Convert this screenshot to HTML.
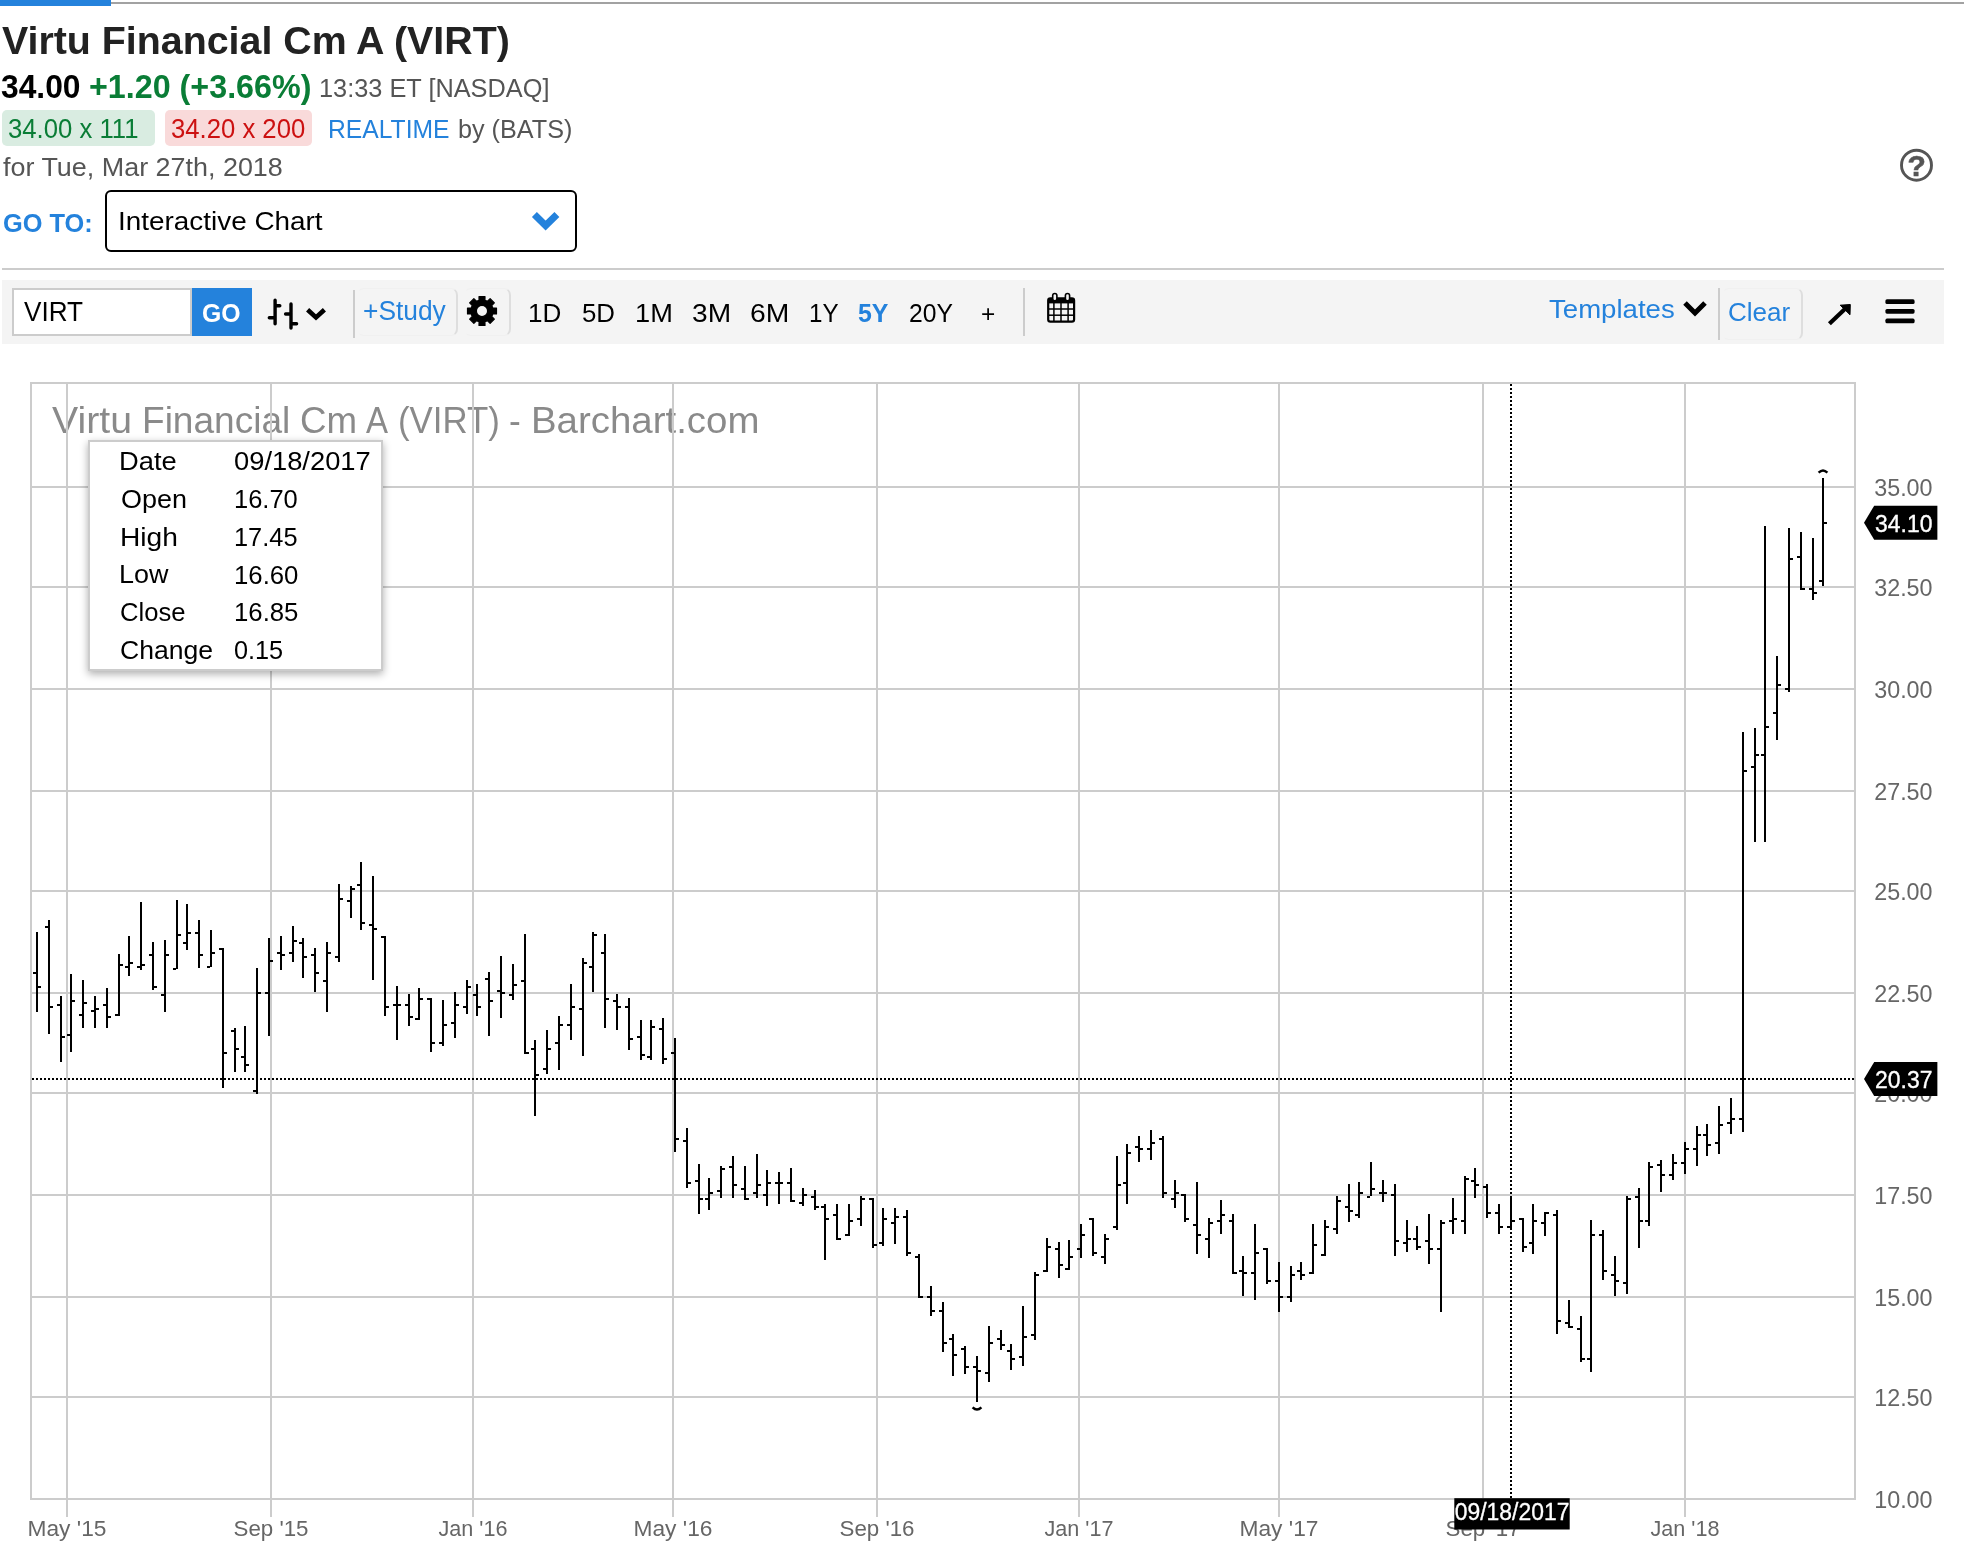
<!DOCTYPE html>
<html lang="en"><head><meta charset="utf-8"><title>Virtu Financial Cm A (VIRT) Interactive Chart - Barchart.com</title>
<style>
html,body{margin:0;padding:0;background:#fff}
body{width:1964px;height:1559px;position:relative;overflow:hidden;font-family:"Liberation Sans", sans-serif}
#page{position:absolute;left:0;top:0;width:1964px;height:1559px;will-change:transform}
.abs{position:absolute;display:block}
.t{position:absolute;white-space:pre;line-height:1;transform-origin:0 0;display:block}
svg text{font-family:"Liberation Sans", sans-serif}
#progress{left:0;top:0;width:111px;height:6px;background:#2482dc}
#topline{left:111px;top:2px;width:1853px;height:2px;background:#a2a2a2}
.badge{border-radius:5px;height:36px;top:110px}
#bidbg{left:2px;width:153px;background:#d9ece1}
#askbg{left:165px;width:147px;background:#f9dada}
#selbox{left:105px;top:190px;width:468px;height:58px;border:2px solid #000;border-radius:6px;background:#fff}
#rule{left:2px;top:268px;width:1942px;height:2px;background:#ccc}
#toolbar{left:2px;top:280px;width:1942px;height:64px;background:#f4f4f4}
#symbox{left:12px;top:288px;width:176px;height:44px;border:2px solid #ccc;background:#fff}
#gobtn{left:192px;top:288px;width:60px;height:48px;background:#2482dc}
#tooltip{left:88px;top:440px;width:291px;height:227px;border:2px solid #ccc;background:#fff;box-shadow:0 3px 8px rgba(0,0,0,.32)}
.vdiv{width:2px;background:#ccc;top:290px;height:48px}
.ghost{border:1px solid #f0f0f0;border-right:2px solid #dedede;border-left-color:transparent;border-radius:7px;top:288px;height:46px}
</style></head>
<body>
<div id="page">
<div class="abs" id="progress"></div><div class="abs" id="topline"></div>
<header>
<h1 style="margin:0"><span class="t" id="title" style="left:2.2px;top:21.8px;font-size:38px;font-weight:700;color:#222;transform:scaleX(1.0352)">Virtu Financial Cm A (VIRT)</span></h1>
<div class="quote"><span class="t" id="last" style="left:1.4px;top:69.9px;font-size:33px;font-weight:700;color:#000;transform:scaleX(0.9630)">34.00</span><span class="t" id="chg" style="left:88.6px;top:69.9px;font-size:33px;font-weight:700;color:#0a7d36;transform:scaleX(0.9778)">+1.20 (+3.66%)</span><span class="t" id="tm" style="left:319.4px;top:76.2px;font-size:25.5px;font-weight:400;color:#555;transform:scaleX(0.9934)">13:33 ET [NASDAQ]</span></div>
<div class="abs badge" id="bidbg"></div><div class="abs badge" id="askbg"></div>
<span class="t" id="bid" style="left:8.0px;top:115.5px;font-size:27px;font-weight:400;color:#0a7d36;transform:scaleX(0.9519)">34.00 x 111</span><span class="t" id="ask" style="left:170.8px;top:115.5px;font-size:27px;font-weight:400;color:#cc1111;transform:scaleX(0.9511)">34.20 x 200</span><span class="t" id="rt" style="left:328.2px;top:115.9px;font-size:26px;font-weight:400;color:#2482dc;transform:scaleX(0.9488)">REALTIME</span><span class="t" id="by" style="left:457.5px;top:115.9px;font-size:26px;font-weight:400;color:#555;transform:scaleX(0.9690)">by (BATS)</span>
<span class="t" id="for" style="left:2.5px;top:153.9px;font-size:26px;font-weight:400;color:#555;transform:scaleX(1.0353)">for Tue, Mar 27th, 2018</span>
<span class="t" id="goto" style="left:2.6px;top:209.7px;font-size:26px;font-weight:700;color:#2482dc;transform:scaleX(0.9753)">GO TO:</span>
<div class="abs" id="selbox"></div><span class="t" id="sel" style="left:118.1px;top:208.1px;font-size:26px;font-weight:400;color:#000;transform:scaleX(1.0725)">Interactive Chart</span>
</header>
<div class="abs" id="rule"></div>
<nav>
<div class="abs" id="toolbar"></div>
<div class="abs" id="symbox"></div><span class="t" id="sym" style="left:24.2px;top:298.3px;font-size:28px;font-weight:400;color:#000;transform:scaleX(0.9333)">VIRT</span>
<div class="abs" id="gobtn"></div><span class="t" id="go" style="left:202.3px;top:299.8px;font-size:26px;font-weight:700;color:#fff;transform:scaleX(0.9538)">GO</span>
<div class="abs vdiv" style="left:353px"></div>
<div class="abs ghost" style="left:357px;width:98px"></div>
<div class="abs ghost" style="left:464px;width:44px"></div>
<span class="t" id="study" style="left:362.7px;top:298.1px;font-size:27px;font-weight:400;color:#2482dc;transform:scaleX(0.9762)">+Study</span>
<span class="t" id="p1d" style="left:528.0px;top:299.7px;font-size:26px;font-weight:400;color:#000;transform:scaleX(1.0033)">1D</span><span class="t" id="p5d" style="left:581.9px;top:299.7px;font-size:26px;font-weight:400;color:#000;transform:scaleX(0.9935)">5D</span><span class="t" id="p1m" style="left:635.0px;top:299.7px;font-size:26px;font-weight:400;color:#000;transform:scaleX(1.0469)">1M</span><span class="t" id="p3m" style="left:691.8px;top:299.7px;font-size:26px;font-weight:400;color:#000;transform:scaleX(1.0818)">3M</span><span class="t" id="p6m" style="left:750.2px;top:299.7px;font-size:26px;font-weight:400;color:#000;transform:scaleX(1.0879)">6M</span><span class="t" id="p1y" style="left:809.1px;top:299.7px;font-size:26px;font-weight:400;color:#000;transform:scaleX(0.9310)">1Y</span><span class="t" id="p5y" style="left:858.3px;top:299.7px;font-size:26px;font-weight:700;color:#2482dc;transform:scaleX(0.9581)">5Y</span><span class="t" id="p20y" style="left:908.8px;top:299.6px;font-size:26px;font-weight:400;color:#000;transform:scaleX(0.9489)">20Y</span><span class="t" id="plus" style="left:980.7px;top:301.6px;font-size:24px;font-weight:400;color:#000;transform:scaleX(1.0167)">+</span>
<div class="abs vdiv" style="left:1023px;top:288px"></div>
<span class="t" id="tpl" style="left:1549.2px;top:295.7px;font-size:26px;font-weight:400;color:#2482dc;transform:scaleX(1.0610)">Templates</span>
<div class="abs vdiv" style="left:1718px;top:288px;height:52px"></div>
<div class="abs ghost" style="left:1722px;width:78px;top:288px;height:50px"></div>
<span class="t" id="clr" style="left:1727.8px;top:299.2px;font-size:26.5px;font-weight:400;color:#2482dc;transform:scaleX(0.9823)">Clear</span>
</nav>

<svg class="abs" style="left:0;top:0" width="1964" height="370" viewBox="0 0 1964 370">
  <!-- select chevron -->
  <path d="M534.4,214.4 L545.6,225.5 L556.9,214.4" fill="none" stroke="#2482dc" stroke-width="7"/>
  <!-- help icon -->
  <circle cx="1916.5" cy="165.2" r="15" fill="none" stroke="#555" stroke-width="2.9"/>
  <text x="1916.6" y="176.2" text-anchor="middle" font-family='"Liberation Sans", sans-serif' font-weight="700" font-size="30" fill="#555" stroke="#555" stroke-width="0.6">?</text>
  <!-- ohlc icon -->
  <g stroke="#000" stroke-width="3.4" stroke-linecap="round" fill="none">
    <path d="M275.1,300.2 V323.7 M269.3,317.7 H275 M275.2,305.8 H279.8"/>
    <path d="M291,304 V328 M285.6,314 H291 M291,323.7 H296.6"/>
  </g>
  <!-- chevrons -->
  <path d="M307.6,309.7 L316,317.4 L324.4,309.7" fill="none" stroke="#000" stroke-width="4.6"/>
  <path d="M1685,303 L1695,313 L1705,303" fill="none" stroke="#000" stroke-width="5"/>
  <path d="M479.04,300.20 L479.00,296.51 L485.00,296.51 L484.96,300.20 L487.55,301.27 L490.13,298.63 L494.37,302.87 L491.73,305.45 L492.80,308.04 L496.49,308.00 L496.49,314.00 L492.80,313.96 L491.73,316.55 L494.37,319.13 L490.13,323.37 L487.55,320.73 L484.96,321.80 L485.00,325.49 L479.00,325.49 L479.04,321.80 L476.45,320.73 L473.87,323.37 L469.63,319.13 L472.27,316.55 L471.20,313.96 L467.51,314.00 L467.51,308.00 L471.20,308.04 L472.27,305.45 L469.63,302.87 L473.87,298.63 L476.45,301.27Z M476.40,311.00 a5.6,5.6 0 1,0 11.2,0 a5.6,5.6 0 1,0 -11.2,0Z" fill="#000" fill-rule="evenodd" stroke="#000" stroke-width="1.2" stroke-linejoin="round"/>
  <!-- calendar -->
  <g>
    <rect x="1048.2" y="298.4" width="25.9" height="23.3" rx="2.2" fill="none" stroke="#000" stroke-width="2.2"/>
    <rect x="1048.2" y="298.4" width="25.9" height="5" fill="#000"/>
    <g stroke="#000" stroke-width="1.5">
      <line x1="1048" y1="309" x2="1074" y2="309"/><line x1="1048" y1="315.2" x2="1074" y2="315.2"/>
      <line x1="1053.9" y1="303" x2="1053.9" y2="322"/><line x1="1061" y1="303" x2="1061" y2="322"/><line x1="1068.1" y1="303" x2="1068.1" y2="322"/>
    </g>
    <rect x="1052.7" y="293.5" width="4.2" height="7.4" rx="2.1" fill="#f4f4f4" stroke="#000" stroke-width="1.6"/>
    <rect x="1065.4" y="293.5" width="4.2" height="7.4" rx="2.1" fill="#f4f4f4" stroke="#000" stroke-width="1.6"/>
  </g>
  <!-- arrow -->
  <path d="M1829.4,323.8 L1846.5,307.6" fill="none" stroke="#000" stroke-width="4.2"/>
  <path d="M1840.2,305.2 L1850.3,304.5 L1850,314.8 Z" fill="#000" stroke="#000" stroke-width="1" stroke-linejoin="round"/>
  <!-- hamburger -->
  <g fill="#000"><rect x="1885.4" y="299.3" width="29.2" height="4.7" rx="1.6"/><rect x="1885.4" y="309" width="29.2" height="4.7" rx="1.6"/><rect x="1885.4" y="318.6" width="29.2" height="4.7" rx="1.6"/></g>
</svg>
<main>
<div class="wm"><span class="t" id="wm1" style="left:52.2px;top:403.3px;font-size:36px;font-weight:400;color:#8a8a8a;transform:scaleX(1.0901)">Virtu</span> <span class="t" id="wm2" style="left:141.8px;top:403.3px;font-size:36px;font-weight:400;color:#8a8a8a;transform:scaleX(1.0295)">Financial</span> <span class="t" id="wm3" style="left:299.7px;top:403.3px;font-size:36px;font-weight:400;color:#8a8a8a;transform:scaleX(1.0192)">Cm</span> <span class="t" id="wm4" style="left:365.9px;top:403.3px;font-size:36px;font-weight:400;color:#8a8a8a;transform:scaleX(0.9167)">A</span> <span class="t" id="wm5" style="left:398.1px;top:403.3px;font-size:36px;font-weight:400;color:#8a8a8a;transform:scaleX(0.9673)">(VIRT)</span> <span class="t" id="wm6" style="left:509.3px;top:403.3px;font-size:36px;font-weight:400;color:#8a8a8a;transform:scaleX(0.9800)">-</span> <span class="t" id="wm7" style="left:530.6px;top:403.3px;font-size:36px;font-weight:400;color:#8a8a8a;transform:scaleX(1.0670)">Barchart.com</span></div>
<svg class="abs" id="chart" style="left:0;top:370px" width="1964" height="1189" viewBox="0 370 1964 1189">
<g fill="#cccccc" shape-rendering="crispEdges">
<rect x="32" y="486" width="1822" height="2"/>
<rect x="32" y="586" width="1822" height="2"/>
<rect x="32" y="688" width="1822" height="2"/>
<rect x="32" y="790" width="1822" height="2"/>
<rect x="32" y="890" width="1822" height="2"/>
<rect x="32" y="992" width="1822" height="2"/>
<rect x="32" y="1092" width="1822" height="2"/>
<rect x="32" y="1194" width="1822" height="2"/>
<rect x="32" y="1296" width="1822" height="2"/>
<rect x="32" y="1396" width="1822" height="2"/>
<rect x="66" y="384" width="2" height="1133"/>
<rect x="270" y="384" width="2" height="1133"/>
<rect x="472" y="384" width="2" height="1133"/>
<rect x="672" y="384" width="2" height="1133"/>
<rect x="876" y="384" width="2" height="1133"/>
<rect x="1078" y="384" width="2" height="1133"/>
<rect x="1278" y="384" width="2" height="1133"/>
<rect x="1482" y="384" width="2" height="1133"/>
<rect x="1684" y="384" width="2" height="1133"/>
</g>
<g fill="#cccccc" shape-rendering="crispEdges"><rect x="30" y="382" width="1826" height="2"/><rect x="30" y="1498" width="1826" height="2"/><rect x="30" y="382" width="2" height="1118"/><rect x="1854" y="382" width="2" height="1118"/></g>
<g font-size="22" fill="#666">
<text x="27.5" y="1536.2" textLength="79" lengthAdjust="spacingAndGlyphs">May '15</text>
<text x="233.5" y="1536.2" textLength="75" lengthAdjust="spacingAndGlyphs">Sep '15</text>
<text x="438.5" y="1536.2" textLength="69" lengthAdjust="spacingAndGlyphs">Jan '16</text>
<text x="633.5" y="1536.2" textLength="79" lengthAdjust="spacingAndGlyphs">May '16</text>
<text x="839.5" y="1536.2" textLength="75" lengthAdjust="spacingAndGlyphs">Sep '16</text>
<text x="1044.5" y="1536.2" textLength="69" lengthAdjust="spacingAndGlyphs">Jan '17</text>
<text x="1239.5" y="1536.2" textLength="79" lengthAdjust="spacingAndGlyphs">May '17</text>
<text x="1445.5" y="1536.2" textLength="75" lengthAdjust="spacingAndGlyphs">Sep '17</text>
<text x="1650.5" y="1536.2" textLength="69" lengthAdjust="spacingAndGlyphs">Jan '18</text>
<text x="1874.2" y="495.9" font-size="23.3" textLength="58.4" lengthAdjust="spacingAndGlyphs">35.00</text>
<text x="1874.2" y="595.9" font-size="23.3" textLength="58.4" lengthAdjust="spacingAndGlyphs">32.50</text>
<text x="1874.2" y="697.9" font-size="23.3" textLength="58.4" lengthAdjust="spacingAndGlyphs">30.00</text>
<text x="1874.2" y="799.9" font-size="23.3" textLength="58.4" lengthAdjust="spacingAndGlyphs">27.50</text>
<text x="1874.2" y="899.9" font-size="23.3" textLength="58.4" lengthAdjust="spacingAndGlyphs">25.00</text>
<text x="1874.2" y="1001.9" font-size="23.3" textLength="58.4" lengthAdjust="spacingAndGlyphs">22.50</text>
<text x="1874.2" y="1101.9" font-size="23.3" textLength="58.4" lengthAdjust="spacingAndGlyphs">20.00</text>
<text x="1874.2" y="1203.9" font-size="23.3" textLength="58.4" lengthAdjust="spacingAndGlyphs">17.50</text>
<text x="1874.2" y="1305.9" font-size="23.3" textLength="58.4" lengthAdjust="spacingAndGlyphs">15.00</text>
<text x="1874.2" y="1405.9" font-size="23.3" textLength="58.4" lengthAdjust="spacingAndGlyphs">12.50</text>
<text x="1874.2" y="1507.9" font-size="23.3" textLength="58.4" lengthAdjust="spacingAndGlyphs">10.00</text>
</g>
<g fill="#000" shape-rendering="crispEdges">
<rect x="36" y="932" width="2" height="80"/><rect x="33" y="972" width="3" height="2"/><rect x="38" y="986" width="3" height="2"/>
<rect x="48" y="920" width="2" height="114"/><rect x="45" y="926" width="3" height="2"/><rect x="50" y="1006" width="3" height="2"/>
<rect x="60" y="996" width="2" height="66"/><rect x="57" y="1004" width="3" height="2"/><rect x="62" y="1036" width="3" height="2"/>
<rect x="70" y="974" width="2" height="78"/><rect x="67" y="1034" width="3" height="2"/><rect x="72" y="1000" width="3" height="2"/>
<rect x="82" y="980" width="2" height="48"/><rect x="79" y="1014" width="3" height="2"/><rect x="84" y="1002" width="3" height="2"/>
<rect x="94" y="996" width="2" height="32"/><rect x="91" y="1010" width="3" height="2"/><rect x="96" y="1008" width="3" height="2"/>
<rect x="106" y="988" width="2" height="40"/><rect x="103" y="1004" width="3" height="2"/><rect x="108" y="1016" width="3" height="2"/>
<rect x="118" y="954" width="2" height="62"/><rect x="115" y="1014" width="3" height="2"/><rect x="120" y="964" width="3" height="2"/>
<rect x="128" y="936" width="2" height="40"/><rect x="125" y="966" width="3" height="2"/><rect x="130" y="962" width="3" height="2"/>
<rect x="140" y="902" width="2" height="68"/><rect x="137" y="966" width="3" height="2"/><rect x="142" y="964" width="3" height="2"/>
<rect x="152" y="942" width="2" height="48"/><rect x="149" y="954" width="3" height="2"/><rect x="154" y="986" width="3" height="2"/>
<rect x="164" y="940" width="2" height="72"/><rect x="161" y="994" width="3" height="2"/><rect x="166" y="954" width="3" height="2"/>
<rect x="176" y="900" width="2" height="69"/><rect x="173" y="968" width="3" height="2"/><rect x="178" y="934" width="3" height="2"/>
<rect x="186" y="904" width="2" height="46"/><rect x="183" y="942" width="3" height="2"/><rect x="188" y="932" width="3" height="2"/>
<rect x="198" y="920" width="2" height="48"/><rect x="195" y="932" width="3" height="2"/><rect x="200" y="954" width="3" height="2"/>
<rect x="210" y="930" width="2" height="37"/><rect x="207" y="966" width="3" height="2"/><rect x="212" y="952" width="3" height="2"/>
<rect x="222" y="948" width="2" height="140"/><rect x="219" y="948" width="3" height="2"/><rect x="224" y="1052" width="3" height="2"/>
<rect x="234" y="1028" width="2" height="44"/><rect x="231" y="1030" width="3" height="2"/><rect x="236" y="1048" width="3" height="2"/>
<rect x="244" y="1026" width="2" height="46"/><rect x="241" y="1056" width="3" height="2"/><rect x="246" y="1064" width="3" height="2"/>
<rect x="256" y="968" width="2" height="126"/><rect x="253" y="1090" width="3" height="2"/><rect x="258" y="992" width="3" height="2"/>
<rect x="268" y="938" width="2" height="98"/><rect x="265" y="992" width="3" height="2"/><rect x="270" y="960" width="3" height="2"/>
<rect x="280" y="936" width="2" height="34"/><rect x="277" y="952" width="3" height="2"/><rect x="282" y="954" width="3" height="2"/>
<rect x="292" y="926" width="2" height="36"/><rect x="289" y="952" width="3" height="2"/><rect x="294" y="940" width="3" height="2"/>
<rect x="302" y="938" width="2" height="40"/><rect x="299" y="942" width="3" height="2"/><rect x="304" y="956" width="3" height="2"/>
<rect x="314" y="948" width="2" height="44"/><rect x="311" y="954" width="3" height="2"/><rect x="316" y="972" width="3" height="2"/>
<rect x="326" y="942" width="2" height="70"/><rect x="323" y="980" width="3" height="2"/><rect x="328" y="952" width="3" height="2"/>
<rect x="338" y="884" width="2" height="78"/><rect x="335" y="956" width="3" height="2"/><rect x="340" y="898" width="3" height="2"/>
<rect x="350" y="886" width="2" height="32"/><rect x="347" y="900" width="3" height="2"/><rect x="352" y="888" width="3" height="2"/>
<rect x="360" y="862" width="2" height="68"/><rect x="357" y="884" width="3" height="2"/><rect x="362" y="922" width="3" height="2"/>
<rect x="372" y="876" width="2" height="104"/><rect x="369" y="924" width="3" height="2"/><rect x="374" y="928" width="3" height="2"/>
<rect x="384" y="936" width="2" height="80"/><rect x="381" y="936" width="3" height="2"/><rect x="386" y="1006" width="3" height="2"/>
<rect x="396" y="986" width="2" height="54"/><rect x="393" y="1004" width="3" height="2"/><rect x="398" y="1004" width="3" height="2"/>
<rect x="408" y="994" width="2" height="32"/><rect x="405" y="1004" width="3" height="2"/><rect x="410" y="1016" width="3" height="2"/>
<rect x="418" y="988" width="2" height="32"/><rect x="415" y="1018" width="3" height="2"/><rect x="420" y="998" width="3" height="2"/>
<rect x="430" y="998" width="2" height="54"/><rect x="427" y="998" width="3" height="2"/><rect x="432" y="1042" width="3" height="2"/>
<rect x="442" y="1000" width="2" height="46"/><rect x="439" y="1042" width="3" height="2"/><rect x="444" y="1024" width="3" height="2"/>
<rect x="454" y="992" width="2" height="46"/><rect x="451" y="1022" width="3" height="2"/><rect x="456" y="1004" width="3" height="2"/>
<rect x="466" y="980" width="2" height="34"/><rect x="463" y="1006" width="3" height="2"/><rect x="468" y="986" width="3" height="2"/>
<rect x="476" y="984" width="2" height="32"/><rect x="473" y="994" width="3" height="2"/><rect x="478" y="1006" width="3" height="2"/>
<rect x="488" y="972" width="2" height="64"/><rect x="485" y="978" width="3" height="2"/><rect x="490" y="1000" width="3" height="2"/>
<rect x="500" y="956" width="2" height="62"/><rect x="497" y="990" width="3" height="2"/><rect x="502" y="992" width="3" height="2"/>
<rect x="512" y="964" width="2" height="36"/><rect x="509" y="994" width="3" height="2"/><rect x="514" y="984" width="3" height="2"/>
<rect x="524" y="934" width="2" height="120"/><rect x="521" y="980" width="3" height="2"/><rect x="526" y="1052" width="3" height="2"/>
<rect x="534" y="1040" width="2" height="76"/><rect x="531" y="1048" width="3" height="2"/><rect x="536" y="1074" width="3" height="2"/>
<rect x="546" y="1030" width="2" height="44"/><rect x="543" y="1068" width="3" height="2"/><rect x="548" y="1048" width="3" height="2"/>
<rect x="558" y="1016" width="2" height="54"/><rect x="555" y="1042" width="3" height="2"/><rect x="560" y="1024" width="3" height="2"/>
<rect x="570" y="984" width="2" height="56"/><rect x="567" y="1024" width="3" height="2"/><rect x="572" y="1006" width="3" height="2"/>
<rect x="582" y="958" width="2" height="98"/><rect x="579" y="1008" width="3" height="2"/><rect x="584" y="962" width="3" height="2"/>
<rect x="592" y="932" width="2" height="60"/><rect x="589" y="966" width="3" height="2"/><rect x="594" y="934" width="3" height="2"/>
<rect x="604" y="934" width="2" height="94"/><rect x="601" y="952" width="3" height="2"/><rect x="606" y="998" width="3" height="2"/>
<rect x="616" y="994" width="2" height="36"/><rect x="613" y="1000" width="3" height="2"/><rect x="618" y="1006" width="3" height="2"/>
<rect x="628" y="998" width="2" height="52"/><rect x="625" y="1006" width="3" height="2"/><rect x="630" y="1038" width="3" height="2"/>
<rect x="640" y="1020" width="2" height="40"/><rect x="637" y="1036" width="3" height="2"/><rect x="642" y="1054" width="3" height="2"/>
<rect x="650" y="1020" width="2" height="40"/><rect x="647" y="1056" width="3" height="2"/><rect x="652" y="1026" width="3" height="2"/>
<rect x="662" y="1018" width="2" height="46"/><rect x="659" y="1028" width="3" height="2"/><rect x="664" y="1058" width="3" height="2"/>
<rect x="674" y="1038" width="2" height="114"/><rect x="671" y="1052" width="3" height="2"/><rect x="676" y="1138" width="3" height="2"/>
<rect x="686" y="1128" width="2" height="60"/><rect x="683" y="1140" width="3" height="2"/><rect x="688" y="1182" width="3" height="2"/>
<rect x="698" y="1164" width="2" height="50"/><rect x="695" y="1180" width="3" height="2"/><rect x="700" y="1198" width="3" height="2"/>
<rect x="708" y="1178" width="2" height="32"/><rect x="705" y="1198" width="3" height="2"/><rect x="710" y="1192" width="3" height="2"/>
<rect x="720" y="1166" width="2" height="32"/><rect x="717" y="1190" width="3" height="2"/><rect x="722" y="1168" width="3" height="2"/>
<rect x="732" y="1156" width="2" height="42"/><rect x="729" y="1166" width="3" height="2"/><rect x="734" y="1184" width="3" height="2"/>
<rect x="744" y="1166" width="2" height="34"/><rect x="741" y="1188" width="3" height="2"/><rect x="746" y="1198" width="3" height="2"/>
<rect x="756" y="1154" width="2" height="44"/><rect x="753" y="1192" width="3" height="2"/><rect x="758" y="1184" width="3" height="2"/>
<rect x="766" y="1170" width="2" height="36"/><rect x="763" y="1194" width="3" height="2"/><rect x="768" y="1182" width="3" height="2"/>
<rect x="778" y="1172" width="2" height="32"/><rect x="775" y="1182" width="3" height="2"/><rect x="780" y="1182" width="3" height="2"/>
<rect x="790" y="1168" width="2" height="34"/><rect x="787" y="1182" width="3" height="2"/><rect x="792" y="1200" width="3" height="2"/>
<rect x="802" y="1188" width="2" height="18"/><rect x="799" y="1202" width="3" height="2"/><rect x="804" y="1194" width="3" height="2"/>
<rect x="814" y="1190" width="2" height="20"/><rect x="811" y="1196" width="3" height="2"/><rect x="816" y="1206" width="3" height="2"/>
<rect x="824" y="1204" width="2" height="56"/><rect x="821" y="1206" width="3" height="2"/><rect x="826" y="1218" width="3" height="2"/>
<rect x="836" y="1204" width="2" height="36"/><rect x="833" y="1214" width="3" height="2"/><rect x="838" y="1238" width="3" height="2"/>
<rect x="848" y="1204" width="2" height="32"/><rect x="845" y="1234" width="3" height="2"/><rect x="850" y="1220" width="3" height="2"/>
<rect x="860" y="1196" width="2" height="30"/><rect x="857" y="1218" width="3" height="2"/><rect x="862" y="1198" width="3" height="2"/>
<rect x="872" y="1198" width="2" height="50"/><rect x="869" y="1198" width="3" height="2"/><rect x="874" y="1244" width="3" height="2"/>
<rect x="882" y="1208" width="2" height="38"/><rect x="879" y="1242" width="3" height="2"/><rect x="884" y="1218" width="3" height="2"/>
<rect x="894" y="1208" width="2" height="36"/><rect x="891" y="1222" width="3" height="2"/><rect x="896" y="1216" width="3" height="2"/>
<rect x="906" y="1210" width="2" height="46"/><rect x="903" y="1216" width="3" height="2"/><rect x="908" y="1252" width="3" height="2"/>
<rect x="918" y="1254" width="2" height="44"/><rect x="915" y="1256" width="3" height="2"/><rect x="920" y="1296" width="3" height="2"/>
<rect x="930" y="1286" width="2" height="30"/><rect x="927" y="1296" width="3" height="2"/><rect x="932" y="1310" width="3" height="2"/>
<rect x="942" y="1302" width="2" height="50"/><rect x="939" y="1310" width="3" height="2"/><rect x="944" y="1342" width="3" height="2"/>
<rect x="952" y="1334" width="2" height="42"/><rect x="949" y="1338" width="3" height="2"/><rect x="954" y="1354" width="3" height="2"/>
<rect x="964" y="1346" width="2" height="28"/><rect x="961" y="1348" width="3" height="2"/><rect x="966" y="1366" width="3" height="2"/>
<rect x="976" y="1356" width="2" height="46"/><rect x="973" y="1366" width="3" height="2"/><rect x="978" y="1370" width="3" height="2"/>
<rect x="988" y="1326" width="2" height="56"/><rect x="985" y="1372" width="3" height="2"/><rect x="990" y="1342" width="3" height="2"/>
<rect x="1000" y="1330" width="2" height="20"/><rect x="997" y="1338" width="3" height="2"/><rect x="1002" y="1344" width="3" height="2"/>
<rect x="1010" y="1344" width="2" height="26"/><rect x="1007" y="1350" width="3" height="2"/><rect x="1012" y="1358" width="3" height="2"/>
<rect x="1022" y="1306" width="2" height="60"/><rect x="1019" y="1356" width="3" height="2"/><rect x="1024" y="1336" width="3" height="2"/>
<rect x="1034" y="1272" width="2" height="68"/><rect x="1031" y="1334" width="3" height="2"/><rect x="1036" y="1274" width="3" height="2"/>
<rect x="1046" y="1238" width="2" height="34"/><rect x="1043" y="1270" width="3" height="2"/><rect x="1048" y="1246" width="3" height="2"/>
<rect x="1058" y="1242" width="2" height="36"/><rect x="1055" y="1248" width="3" height="2"/><rect x="1060" y="1264" width="3" height="2"/>
<rect x="1068" y="1240" width="2" height="30"/><rect x="1065" y="1268" width="3" height="2"/><rect x="1070" y="1256" width="3" height="2"/>
<rect x="1080" y="1224" width="2" height="34"/><rect x="1077" y="1248" width="3" height="2"/><rect x="1082" y="1234" width="3" height="2"/>
<rect x="1092" y="1218" width="2" height="38"/><rect x="1089" y="1218" width="3" height="2"/><rect x="1094" y="1252" width="3" height="2"/>
<rect x="1104" y="1234" width="2" height="30"/><rect x="1101" y="1256" width="3" height="2"/><rect x="1106" y="1238" width="3" height="2"/>
<rect x="1116" y="1156" width="2" height="74"/><rect x="1113" y="1226" width="3" height="2"/><rect x="1118" y="1184" width="3" height="2"/>
<rect x="1126" y="1144" width="2" height="60"/><rect x="1123" y="1182" width="3" height="2"/><rect x="1128" y="1152" width="3" height="2"/>
<rect x="1138" y="1136" width="2" height="26"/><rect x="1135" y="1146" width="3" height="2"/><rect x="1140" y="1148" width="3" height="2"/>
<rect x="1150" y="1130" width="2" height="30"/><rect x="1147" y="1148" width="3" height="2"/><rect x="1152" y="1142" width="3" height="2"/>
<rect x="1162" y="1136" width="2" height="62"/><rect x="1159" y="1138" width="3" height="2"/><rect x="1164" y="1192" width="3" height="2"/>
<rect x="1174" y="1180" width="2" height="28"/><rect x="1171" y="1198" width="3" height="2"/><rect x="1176" y="1192" width="3" height="2"/>
<rect x="1184" y="1194" width="2" height="28"/><rect x="1181" y="1194" width="3" height="2"/><rect x="1186" y="1218" width="3" height="2"/>
<rect x="1196" y="1182" width="2" height="72"/><rect x="1193" y="1224" width="3" height="2"/><rect x="1198" y="1234" width="3" height="2"/>
<rect x="1208" y="1218" width="2" height="40"/><rect x="1205" y="1238" width="3" height="2"/><rect x="1210" y="1222" width="3" height="2"/>
<rect x="1220" y="1200" width="2" height="34"/><rect x="1217" y="1220" width="3" height="2"/><rect x="1222" y="1214" width="3" height="2"/>
<rect x="1232" y="1214" width="2" height="60"/><rect x="1229" y="1220" width="3" height="2"/><rect x="1234" y="1272" width="3" height="2"/>
<rect x="1242" y="1256" width="2" height="40"/><rect x="1239" y="1270" width="3" height="2"/><rect x="1244" y="1272" width="3" height="2"/>
<rect x="1254" y="1224" width="2" height="76"/><rect x="1251" y="1272" width="3" height="2"/><rect x="1256" y="1252" width="3" height="2"/>
<rect x="1266" y="1248" width="2" height="36"/><rect x="1263" y="1248" width="3" height="2"/><rect x="1268" y="1280" width="3" height="2"/>
<rect x="1278" y="1262" width="2" height="50"/><rect x="1275" y="1280" width="3" height="2"/><rect x="1280" y="1296" width="3" height="2"/>
<rect x="1290" y="1266" width="2" height="36"/><rect x="1287" y="1296" width="3" height="2"/><rect x="1292" y="1274" width="3" height="2"/>
<rect x="1300" y="1262" width="2" height="18"/><rect x="1297" y="1270" width="3" height="2"/><rect x="1302" y="1274" width="3" height="2"/>
<rect x="1312" y="1224" width="2" height="50"/><rect x="1309" y="1272" width="3" height="2"/><rect x="1314" y="1244" width="3" height="2"/>
<rect x="1324" y="1220" width="2" height="36"/><rect x="1321" y="1254" width="3" height="2"/><rect x="1326" y="1226" width="3" height="2"/>
<rect x="1336" y="1196" width="2" height="38"/><rect x="1333" y="1228" width="3" height="2"/><rect x="1338" y="1200" width="3" height="2"/>
<rect x="1348" y="1184" width="2" height="38"/><rect x="1345" y="1206" width="3" height="2"/><rect x="1350" y="1210" width="3" height="2"/>
<rect x="1358" y="1182" width="2" height="36"/><rect x="1355" y="1214" width="3" height="2"/><rect x="1360" y="1192" width="3" height="2"/>
<rect x="1370" y="1162" width="2" height="34"/><rect x="1367" y="1196" width="3" height="2"/><rect x="1372" y="1188" width="3" height="2"/>
<rect x="1382" y="1180" width="2" height="22"/><rect x="1379" y="1192" width="3" height="2"/><rect x="1384" y="1192" width="3" height="2"/>
<rect x="1394" y="1184" width="2" height="72"/><rect x="1391" y="1194" width="3" height="2"/><rect x="1396" y="1240" width="3" height="2"/>
<rect x="1406" y="1220" width="2" height="32"/><rect x="1403" y="1242" width="3" height="2"/><rect x="1408" y="1238" width="3" height="2"/>
<rect x="1416" y="1226" width="2" height="24"/><rect x="1413" y="1238" width="3" height="2"/><rect x="1418" y="1246" width="3" height="2"/>
<rect x="1428" y="1214" width="2" height="50"/><rect x="1425" y="1240" width="3" height="2"/><rect x="1430" y="1248" width="3" height="2"/>
<rect x="1440" y="1220" width="2" height="92"/><rect x="1437" y="1248" width="3" height="2"/><rect x="1442" y="1222" width="3" height="2"/>
<rect x="1452" y="1198" width="2" height="36"/><rect x="1449" y="1220" width="3" height="2"/><rect x="1454" y="1218" width="3" height="2"/>
<rect x="1464" y="1176" width="2" height="58"/><rect x="1461" y="1220" width="3" height="2"/><rect x="1466" y="1178" width="3" height="2"/>
<rect x="1474" y="1168" width="2" height="30"/><rect x="1471" y="1180" width="3" height="2"/><rect x="1476" y="1184" width="3" height="2"/>
<rect x="1486" y="1184" width="2" height="34"/><rect x="1483" y="1186" width="3" height="2"/><rect x="1488" y="1212" width="3" height="2"/>
<rect x="1498" y="1204" width="2" height="30"/><rect x="1495" y="1212" width="3" height="2"/><rect x="1500" y="1226" width="3" height="2"/>
<rect x="1510" y="1196" width="2" height="34"/><rect x="1507" y="1226" width="3" height="2"/><rect x="1512" y="1220" width="3" height="2"/>
<rect x="1522" y="1218" width="2" height="34"/><rect x="1519" y="1218" width="3" height="2"/><rect x="1524" y="1246" width="3" height="2"/>
<rect x="1532" y="1204" width="2" height="50"/><rect x="1529" y="1242" width="3" height="2"/><rect x="1534" y="1220" width="3" height="2"/>
<rect x="1544" y="1212" width="2" height="24"/><rect x="1541" y="1222" width="3" height="2"/><rect x="1546" y="1212" width="3" height="2"/>
<rect x="1556" y="1210" width="2" height="124"/><rect x="1553" y="1214" width="3" height="2"/><rect x="1558" y="1320" width="3" height="2"/>
<rect x="1568" y="1300" width="2" height="28"/><rect x="1565" y="1322" width="3" height="2"/><rect x="1570" y="1326" width="3" height="2"/>
<rect x="1580" y="1316" width="2" height="46"/><rect x="1577" y="1328" width="3" height="2"/><rect x="1582" y="1358" width="3" height="2"/>
<rect x="1590" y="1220" width="2" height="152"/><rect x="1587" y="1358" width="3" height="2"/><rect x="1592" y="1234" width="3" height="2"/>
<rect x="1602" y="1230" width="2" height="50"/><rect x="1599" y="1234" width="3" height="2"/><rect x="1604" y="1270" width="3" height="2"/>
<rect x="1614" y="1256" width="2" height="40"/><rect x="1611" y="1274" width="3" height="2"/><rect x="1616" y="1280" width="3" height="2"/>
<rect x="1626" y="1196" width="2" height="98"/><rect x="1623" y="1282" width="3" height="2"/><rect x="1628" y="1198" width="3" height="2"/>
<rect x="1638" y="1188" width="2" height="60"/><rect x="1635" y="1196" width="3" height="2"/><rect x="1640" y="1220" width="3" height="2"/>
<rect x="1648" y="1162" width="2" height="64"/><rect x="1645" y="1220" width="3" height="2"/><rect x="1650" y="1166" width="3" height="2"/>
<rect x="1660" y="1160" width="2" height="32"/><rect x="1657" y="1164" width="3" height="2"/><rect x="1662" y="1174" width="3" height="2"/>
<rect x="1672" y="1154" width="2" height="26"/><rect x="1669" y="1174" width="3" height="2"/><rect x="1674" y="1162" width="3" height="2"/>
<rect x="1684" y="1142" width="2" height="32"/><rect x="1681" y="1162" width="3" height="2"/><rect x="1686" y="1148" width="3" height="2"/>
<rect x="1696" y="1126" width="2" height="40"/><rect x="1693" y="1148" width="3" height="2"/><rect x="1698" y="1134" width="3" height="2"/>
<rect x="1706" y="1124" width="2" height="32"/><rect x="1703" y="1134" width="3" height="2"/><rect x="1708" y="1144" width="3" height="2"/>
<rect x="1718" y="1106" width="2" height="48"/><rect x="1715" y="1142" width="3" height="2"/><rect x="1720" y="1124" width="3" height="2"/>
<rect x="1730" y="1098" width="2" height="36"/><rect x="1727" y="1122" width="3" height="2"/><rect x="1732" y="1118" width="3" height="2"/>
<rect x="1742" y="732" width="2" height="400"/><rect x="1739" y="1118" width="3" height="2"/><rect x="1744" y="770" width="3" height="2"/>
<rect x="1754" y="728" width="2" height="114"/><rect x="1751" y="766" width="3" height="2"/><rect x="1756" y="754" width="3" height="2"/>
<rect x="1764" y="526" width="2" height="316"/><rect x="1761" y="754" width="3" height="2"/><rect x="1766" y="726" width="3" height="2"/>
<rect x="1776" y="656" width="2" height="84"/><rect x="1773" y="712" width="3" height="2"/><rect x="1778" y="684" width="3" height="2"/>
<rect x="1788" y="528" width="2" height="164"/><rect x="1785" y="688" width="3" height="2"/><rect x="1790" y="558" width="3" height="2"/>
<rect x="1800" y="532" width="2" height="58"/><rect x="1797" y="556" width="3" height="2"/><rect x="1802" y="588" width="3" height="2"/>
<rect x="1812" y="538" width="2" height="62"/><rect x="1809" y="588" width="3" height="2"/><rect x="1814" y="592" width="3" height="2"/>
<rect x="1822" y="478" width="2" height="108"/><rect x="1819" y="580" width="3" height="2"/><rect x="1824" y="522" width="3" height="2"/>
</g>
<path d="M1818.6,472.6 Q1823,468.2 1827.4,472.6" fill="none" stroke="#000" stroke-width="2.4"/>
<path d="M972.6,1407.4 Q977,1411.8 981.4,1407.4" fill="none" stroke="#000" stroke-width="2.4"/>
<g stroke="#000" stroke-width="2" stroke-dasharray="2,2" shape-rendering="crispEdges"><line x1="32" y1="1079" x2="1854" y2="1079"/><line x1="1511" y1="384" x2="1511" y2="1498"/></g>
<path d="M1864,522.7 L1874.2,505.70000000000005 L1937.4,505.70000000000005 L1937.4,539.7 L1874.2,539.7 Z" fill="#000"/><text x="1875" y="531.8000000000001" font-size="24.6" fill="#fff" stroke="#fff" stroke-width="0.35" textLength="57.4" lengthAdjust="spacingAndGlyphs">34.10</text>
<path d="M1864,1079 L1874.2,1062 L1937.4,1062 L1937.4,1096 L1874.2,1096 Z" fill="#000"/><text x="1875" y="1088.1" font-size="24.6" fill="#fff" stroke="#fff" stroke-width="0.35" textLength="57.4" lengthAdjust="spacingAndGlyphs">20.37</text>
<rect x="1454.3" y="1498.2" width="115.4" height="31.3" fill="#000"/>
<text x="1454.8" y="1520.2" font-size="23" fill="#fff" stroke="#fff" stroke-width="0.3" textLength="114.6" lengthAdjust="spacingAndGlyphs">09/18/2017</text>
</svg>
<div class="abs" id="tooltip"></div>
<span class="t" id="tl0" style="left:119.4px;top:449.2px;font-size:25px;font-weight:400;color:#000;transform:scaleX(1.0920)">Date</span><span class="t" id="tv0" style="left:233.5px;top:448.4px;font-size:26px;font-weight:400;color:#000;transform:scaleX(1.0508)">09/18/2017</span><span class="t" id="tl1" style="left:120.5px;top:486.9px;font-size:25px;font-weight:400;color:#000;transform:scaleX(1.0780)">Open</span><span class="t" id="tv1" style="left:233.7px;top:486.1px;font-size:26px;font-weight:400;color:#000;transform:scaleX(0.9806)">16.70</span><span class="t" id="tl2" style="left:119.8px;top:524.7px;font-size:25px;font-weight:400;color:#000;transform:scaleX(1.1271)">High</span><span class="t" id="tv2" style="left:233.7px;top:523.9px;font-size:26px;font-weight:400;color:#000;transform:scaleX(0.9758)">17.45</span><span class="t" id="tl3" style="left:119.4px;top:562.4px;font-size:25px;font-weight:400;color:#000;transform:scaleX(1.0773)">Low</span><span class="t" id="tv3" style="left:233.5px;top:561.6px;font-size:26px;font-weight:400;color:#000;transform:scaleX(0.9903)">16.60</span><span class="t" id="tl4" style="left:120.4px;top:600.2px;font-size:25px;font-weight:400;color:#000;transform:scaleX(1.0242)">Close</span><span class="t" id="tv4" style="left:233.5px;top:599.4px;font-size:26px;font-weight:400;color:#000;transform:scaleX(0.9903)">16.85</span><span class="t" id="tl5" style="left:120.3px;top:637.9px;font-size:25px;font-weight:400;color:#000;transform:scaleX(1.0628)">Change</span><span class="t" id="tv5" style="left:233.6px;top:637.1px;font-size:26px;font-weight:400;color:#000;transform:scaleX(0.9714)">0.15</span>

</main>
</div>
</body></html>
